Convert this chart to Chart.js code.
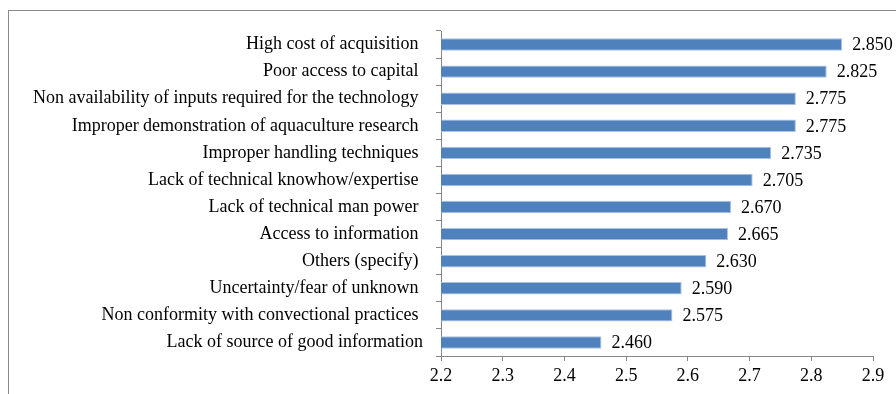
<!DOCTYPE html>
<html>
<head>
<meta charset="utf-8">
<script src="https://cdn.jsdelivr.net/npm/chart.js@4/dist/chart.umd.min.js"></script>
<style>
  html, body { margin: 0; padding: 0; background: #fff; overflow: hidden; }
  #frame { position: absolute; left: 8px; top: 10px; width: 900px; height: 400px; border: 1px solid #8a8a8a; box-sizing: border-box; }
  #wrap { position: absolute; left: 0; top: 0; width: 896px; height: 394px; }
</style>
</head>
<body>
<div id="frame"></div>
<div id="wrap"><canvas id="c" width="896" height="394"></canvas></div>
<script>
const categories = [
  "High cost of acquisition ",
  "Poor access to capital ",
  "Non availability of inputs required for the technology ",
  "Improper demonstration of aquaculture research ",
  "Improper handling techniques ",
  "Lack of technical knowhow/expertise ",
  "Lack of technical man power ",
  "Access to information ",
  "Others (specify) ",
  "Uncertainty/fear of unknown ",
  "Non conformity with convectional practices ",
  "Lack of source of good information"
];
const values = [2.850, 2.825, 2.775, 2.775, 2.735, 2.705, 2.670, 2.665, 2.630, 2.590, 2.575, 2.460];
const valueLabels = ["2.850", "2.825", "2.775", "2.775", "2.735", "2.705", "2.670", "2.665", "2.630", "2.590", "2.575", "2.460"];
const xTicks = [2.2, 2.3, 2.4, 2.5, 2.6, 2.7, 2.8, 2.9];

const FONT = "'Liberation Serif', 'Times New Roman', serif";

const valueLabelPlugin = {
  id: 'valueLabels',
  afterDatasetsDraw(chart) {
    const ctx = chart.ctx;
    const meta = chart.getDatasetMeta(0);
    ctx.save();
    ctx.font = "18px " + FONT;
    ctx.fillStyle = '#000';
    ctx.textAlign = 'left';
    ctx.textBaseline = 'middle';
    meta.data.forEach((bar, i) => {
      ctx.fillText(valueLabels[i], bar.x + 10, bar.y + 1);
    });
    ctx.restore();
  }
};

new Chart(document.getElementById('c'), {
  type: 'bar',
  data: {
    labels: categories,
    datasets: [{
      data: values,
      backgroundColor: '#4F81BD',
      borderColor: '#A9C2E0',
      borderWidth: 1,
      borderSkipped: false,
      barPercentage: 0.46,
      categoryPercentage: 1
    }]
  },
  options: {
    indexAxis: 'y',
    responsive: false,
    animation: false,
    devicePixelRatio: 1,
    layout: { padding: { left: 0, right: 23, top: 31, bottom: 0 } },
    plugins: { legend: { display: false }, tooltip: { enabled: false } },
    scales: {
      x: {
        type: 'linear',
        min: 2.2,
        max: 2.9,
        afterBuildTicks(axis) { axis.ticks = xTicks.map(v => ({ value: v })); },
        afterFit(axis) { axis.height = 38; },
        border: { display: true, color: '#868686', width: 1 },
        grid: { display: true, drawOnChartArea: false, drawTicks: true, tickLength: 5, color: '#868686' },
        ticks: {
          color: '#000',
          font: { family: FONT, size: 18 },
          padding: 4,
          maxRotation: 0,
          callback: (v) => Number(v).toFixed(1)
        }
      },
      y: {
        afterFit(axis) { axis.width = 441; },
        border: { display: true, color: '#868686', width: 1 },
        grid: { display: true, offset: true, drawOnChartArea: false, drawTicks: true, tickLength: 5, color: '#868686' },
        ticks: {
          color: '#000',
          font: { family: FONT, size: 18 },
          padding: 13,
          autoSkip: false
        }
      }
    }
  },
  plugins: [valueLabelPlugin]
});
</script>
</body>
</html>
